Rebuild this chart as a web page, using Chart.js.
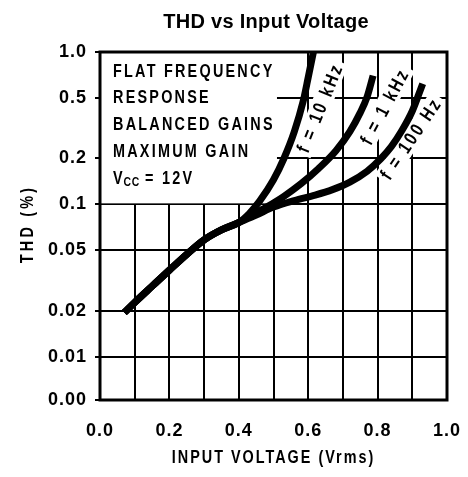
<!DOCTYPE html>
<html>
<head>
<meta charset="utf-8">
<title>THD vs Input Voltage</title>
<script src="https://cdn.jsdelivr.net/npm/chart.js@4"></script>
<style>
  html, body { margin: 0; padding: 0; background: #fff; }
  #grafico { display: block; }
</style>
</head>
<body>
<canvas id="grafico" width="468" height="477"></canvas>
<script>
// Datos (THD en %, tensión de entrada en Vrms)
const voltajeComun = [0.07, 0.10, 0.15, 0.20, 0.25, 0.30, 0.35, 0.40];
const thdComun = [0.0195, 0.0227, 0.029, 0.037, 0.047, 0.0585, 0.068, 0.076];

// f = 10 kHz
const voltaje10k = [0.43, 0.46, 0.50, 0.53, 0.56, 0.585, 0.60, 0.615];
const thd10k = [0.087, 0.105, 0.145, 0.20, 0.30, 0.47, 0.68, 1.0];

// f = 1 kHz
const voltaje1k = [0.43, 0.48, 0.53, 0.58, 0.63, 0.68, 0.72, 0.75, 0.77, 0.787];
const thd1k = [0.083, 0.096, 0.113, 0.137, 0.172, 0.225, 0.30, 0.40, 0.51, 0.70];

// f = 100 Hz
const voltaje100 = [0.45, 0.50, 0.56, 0.62, 0.67, 0.72, 0.77, 0.81, 0.84, 0.87, 0.90, 0.93];
const thd100 = [0.085, 0.096, 0.106, 0.115, 0.125, 0.14, 0.165, 0.20, 0.24, 0.305, 0.41, 0.62];

// Eje Y: escala logarítmica con un "0.00" falso en la parte baja
const PISO_EJE = 0.0052;
const yValores = [PISO_EJE, 0.01, 0.02, 0.05, 0.1, 0.2, 0.5, 1.0];
const yEtiquetas = ['0.00', '0.01', '0.02', '0.05', '0.1', '0.2', '0.5', '1.0'];

const notas = ['FLAT FREQUENCY', 'RESPONSE', 'BALANCED GAINS', 'MAXIMUM GAIN'];

// etiquetas de curva: texto, voltaje, thd, ángulo
const etiquetasCurva = [
    ['f = 10 kHz', 0.634, 0.43, -68],
    ['f = 1 kHz', 0.821, 0.44, -62],
    ['f = 100 Hz', 0.896, 0.27, -56]
];

const FUENTE = '"Liberation Sans", Arial, sans-serif';

function serie(volts, thd) {
    const xs = voltajeComun.concat(volts);
    const ys = thdComun.concat(thd);
    return xs.map((v, i) => ({ x: v, y: ys[i] }));
}

function estiloCurva(datos) {
    return {
        data: datos,
        borderColor: '#000',
        borderWidth: 7,
        pointRadius: 0,
        fill: false,
        cubicInterpolationMode: 'monotone',
        borderCapStyle: 'butt',
        borderJoinStyle: 'round'
    };
}

// texto "condensado": se estrecha en horizontal y se espacia
function textoAngosto(ctx, texto, x, y, tam, espacio, alinear) {
    ctx.save();
    ctx.translate(x, y);
    ctx.scale(0.8, 1);
    ctx.font = 'bold ' + tam + 'px ' + FUENTE;
    ctx.letterSpacing = espacio + 'px';
    ctx.textAlign = alinear || 'left';
    ctx.textBaseline = 'middle';
    ctx.fillText(texto, 0, 0);
    const ancho = ctx.measureText(texto).width * 0.8;
    ctx.restore();
    return ancho;
}

// Los números de los ejes van algo espaciados
const espaciado = {
    id: 'espaciado',
    beforeUpdate(chart) { chart.ctx.letterSpacing = '1px'; },
    beforeDraw(chart) { chart.ctx.letterSpacing = '1px'; }
};

const decoracion = {
    id: 'decoracion',
    beforeDatasetsDraw(chart) {
        const { ctx, chartArea: a, scales: { x, y } } = chart;
        ctx.save();
        ctx.fillStyle = '#fff';

        // recuadro blanco con las condiciones de la prueba
        const xr = x.getPixelForValue(0.51);
        const yb = y.getPixelForValue(0.1);
        ctx.fillRect(a.left, a.top, xr - a.left, yb - a.top - 1);

        ctx.fillStyle = '#000';
        const filas = [20, 46, 73, 100];
        notas.forEach((t, i) => textoAngosto(ctx, t, a.left + 13, a.top + filas[i], 18, 2.8));

        // Vcc = 12V
        let px = a.left + 13;
        const py = a.top + 127;
        px += textoAngosto(ctx, 'V', px, py, 18, 1);
        px += textoAngosto(ctx, 'CC', px, py + 3, 13, 1) + 5;
        textoAngosto(ctx, '= 12V', px, py, 18, 2.8);

        // etiquetas giradas de cada curva, con fondo blanco
        etiquetasCurva.forEach(([texto, v, t, ang]) => {
            const cx = x.getPixelForValue(v);
            const cy = y.getPixelForValue(t);
            ctx.save();
            ctx.translate(cx, cy);
            ctx.rotate(ang * Math.PI / 180);
            ctx.font = 'bold 19px ' + FUENTE;
            ctx.letterSpacing = '3px';
            const w = ctx.measureText(texto).width * 0.8;
            ctx.fillStyle = '#fff';
            ctx.fillRect(-w / 2 - 3, -10, w + 6, 20);
            ctx.fillStyle = '#000';
            textoAngosto(ctx, texto, 0, 1, 19, 3, 'center');
            ctx.restore();
        });

        ctx.restore();
    },
    afterDatasetsDraw(chart) {
        const { ctx, chartArea: a } = chart;
        ctx.save();
        ctx.strokeStyle = '#000';
        ctx.lineWidth = 3;
        ctx.strokeRect(a.left, a.top, a.right - a.left, a.bottom - a.top);
        ctx.restore();
    },
    afterDraw(chart) {
        const { ctx, chartArea: a } = chart;
        ctx.save();
        ctx.fillStyle = '#000';
        ctx.textAlign = 'center';
        ctx.textBaseline = 'middle';

        // título
        ctx.letterSpacing = '0.3px';
        ctx.font = 'bold 20px ' + FUENTE;
        ctx.fillText('THD vs Input Voltage', 266, 22);

        // títulos de ejes
        textoAngosto(ctx, 'INPUT VOLTAGE (Vrms)', (a.left + a.right) / 2, 458, 18, 2.5, 'center');

        ctx.translate(28, 224);
        ctx.rotate(-Math.PI / 2);
        textoAngosto(ctx, 'THD (%)', 0, 0, 18, 4, 'center');
        ctx.restore();
    }
};

const fuenteTicks = { family: FUENTE, size: 18, weight: 'bold' };

new Chart(document.getElementById('grafico'), {
    type: 'line',
    data: {
        datasets: [
            estiloCurva(serie(voltaje10k, thd10k)),
            estiloCurva(serie(voltaje1k, thd1k)),
            estiloCurva(serie(voltaje100, thd100))
        ]
    },
    options: {
        responsive: false,
        devicePixelRatio: 1,
        animation: false,
        layout: { padding: { top: 52, right: 21, left: 0, bottom: 0 } },
        plugins: {
            legend: { display: false },
            title: { display: false },
            tooltip: { enabled: false }
        },
        scales: {
            x: {
                type: 'linear',
                min: 0,
                max: 1,
                afterFit(s) {
                    s.height = 77;
                    s.paddingLeft = 0;
                    s.paddingRight = 0;
                },
                border: { display: false },
                grid: { color: '#000', lineWidth: 2, drawTicks: false },
                ticks: {
                    stepSize: 0.1,
                    padding: 20,
                    color: '#000',
                    font: fuenteTicks,
                    maxRotation: 0,
                    autoSkip: false,
                    callback: (valor) => {
                        const i = Math.round(valor * 10);
                        return i % 2 === 0 ? (i / 10).toFixed(1) : '';
                    }
                }
            },
            y: {
                type: 'logarithmic',
                min: PISO_EJE,
                max: 1.0,
                afterFit(s) {
                    s.width = 100;
                    s.paddingTop = 0;
                    s.paddingBottom = 0;
                },
                afterBuildTicks(s) { s.ticks = yValores.map(v => ({ value: v })); },
                border: { display: false },
                grid: { color: '#000', lineWidth: 2, tickLength: 5 },
                ticks: {
                    padding: 8,
                    color: '#000',
                    font: fuenteTicks,
                    autoSkip: false,
                    callback: (valor, i) => yEtiquetas[i]
                }
            }
        }
    },
    plugins: [espaciado, decoracion]
});
</script>
</body>
</html>
